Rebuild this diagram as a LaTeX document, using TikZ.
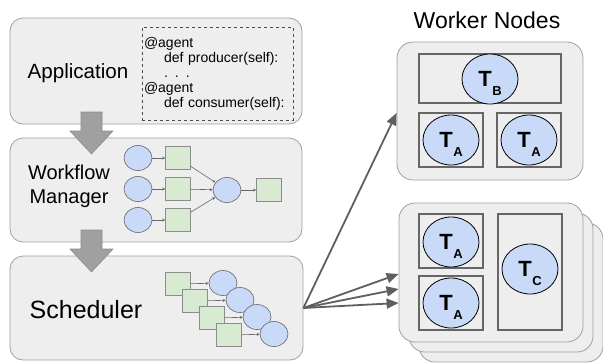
\documentclass[tikz,border=0pt]{standalone}
\usepackage{fontspec}
\setmainfont{Liberation Sans}
\usepackage{xcolor}
\usepackage{tikz}
\usetikzlibrary{shapes,arrows.meta,positioning,calc}
\definecolor{panelgray}{HTML}{EEEEEE}
\definecolor{panelline}{HTML}{A0A0A0}
\definecolor{slotline}{HTML}{666666}
\definecolor{taskblue}{HTML}{C9DAF8}
\definecolor{taskgreen}{HTML}{D9EAD3}
\definecolor{wiregray}{HTML}{5F5F5F}
\definecolor{bigarrowgray}{HTML}{A0A0A0}
\newcommand{\tasklabel}[1]{\fontsize{22}{22}\selectfont\bfseries T\kern0.5pt\raisebox{-9pt}[0pt][0pt]{\fontsize{13}{13}\selectfont #1}}
\tikzset{
    panel/.style={rectangle, draw=panelline, fill=panelgray, rounded corners=13pt, line width=0.8pt},
    codebox/.style={rectangle, draw=black!70, dashed, line width=0.5pt, text width=147pt, align=left, inner sep=2pt, minimum width=151pt, minimum height=93pt, font=\fontsize{14}{15}\selectfont},
    bigarrow/.style={draw=black!45, fill=bigarrowgray, line width=0.6pt},
    job/.style={ellipse, draw=black!60, fill=taskblue, line width=0.6pt, minimum width=28pt, minimum height=25pt, inner sep=0pt},
    data/.style={rectangle, draw=black!45, fill=taskgreen, line width=0.6pt, minimum width=25pt, minimum height=23pt, inner sep=0pt},
    small/.style={draw=black!60, line width=0.6pt, -{Stealth[length=3pt,width=3pt]}},
    slot/.style={rectangle, draw=slotline, fill=panelgray, line width=2.5pt, inner sep=0pt},
    task/.style={ellipse, draw=black, fill=taskblue, line width=0.8pt, minimum width=56pt, minimum height=50pt, inner sep=0pt},
    wire/.style={draw=wiregray, line width=1.8pt, -{Triangle[length=12pt,width=10pt]}}
}
\begin{document}
\begin{tikzpicture}[x=1pt, y=-1pt]
    \useasboundingbox (0,0) rectangle (603,362);

    % Software stack on the left
    \node [panel, minimum width=292pt, minimum height=106pt] (app) at (156,71) {};
    \node [panel, minimum width=292pt, minimum height=104pt] (wfm) at (156,190) {};
    \node [panel, minimum width=293pt, minimum height=104pt] (sched) at (156.5,308) {};

    \node [font=\fontsize{20.6}{24}\selectfont] (apptext) at (78,73) {Application};
    \node [font=\fontsize{20}{24}\selectfont, align=center] (wfmtext) at (69,186) {Workflow\\Manager};
    \node [font=\fontsize{25}{30}\selectfont] (schedtext) at (86,310) {Scheduler};

    \node [codebox] (code) at (217.5,73.5) {
        @agent\\
        \hspace*{20pt}def producer(self):\\
        \hspace*{20pt}. . .\\
        @agent\\
        \hspace*{20pt}def consumer(self):
    };

    % Block arrows between the layers
    \foreach \ya in {112,230}
        \draw [bigarrow] (91.5,\ya) ++(-10.5,0) -- ++(21,0) -- ++(0,19) -- ++(11,0)
            -- ++(-21.5,23) -- ++(-21.5,-23) -- ++(11,0) -- cycle;

    % Workflow graph
    \foreach \i/\y in {1/158,2/189,3/220} {
        \node [job] (wc\i) at (138,\y) {};
        \node [data] (ws\i) at (178,\y) {};
        \path [small] (wc\i) -- (ws\i);
    }
    \node [job] (wm) at (227,190) {};
    \node [data] (wf) at (269,190) {};
    \foreach \i in {1,2,3}
        \path [small] (ws\i) -- (wm);
    \path [small] (wm) -- (wf);

    % Scheduled jobs
    \foreach \i in {0,...,3} {
        \node [data] (ss\i) at (178+17*\i,284+17*\i) {};
        \node [job] (sc\i) at (223+17*\i,283+17*\i) {};
        \path [small] (ss\i) -- (sc\i);
    }

    % Worker nodes
    \node [font=\fontsize{23}{26}\selectfont] (title) at (487,20) {Worker Nodes};

    \node [panel, rounded corners=16pt, minimum width=186pt, minimum height=138pt] (wn1) at (490,111) {};
    \node [slot, minimum width=142pt, minimum height=49pt] (slotb) at (490,78.5) {};
    \node [slot, minimum width=64pt, minimum height=54pt] (slota1) at (451,140) {};
    \node [slot, minimum width=64pt, minimum height=54pt] (slota2) at (529,140) {};
    \node [task] (tb) at (490,79) {\tasklabel{B}};
    \node [task] (ta1) at (451,140) {\tasklabel{A}};
    \node [task] (ta2) at (529,140) {\tasklabel{A}};

    \foreach \s in {20,10}
        \node [panel, rounded corners=16pt, minimum width=184pt, minimum height=139pt] (wnback\s) at (491+\s,272.5+\s) {};
    \node [panel, rounded corners=16pt, minimum width=184pt, minimum height=139pt] (wn2) at (491,272.5) {};
    \node [slot, minimum width=64pt, minimum height=54pt] (slota3) at (451,241) {};
    \node [slot, minimum width=64pt, minimum height=54pt] (slota4) at (451,303) {};
    \node [slot, minimum width=64pt, minimum height=116pt] (slotc) at (530,272) {};
    \node [task] (ta3) at (451,242) {\tasklabel{A}};
    \node [task] (ta4) at (451,303) {\tasklabel{A}};
    \node [task] (tc) at (530,269) {\tasklabel{C}};

    % Dispatch
    \path [wire] (sched.east) -- ($(wn1.west)+(0,2)$);
    \foreach \dy in {1.5,16.5,30.5}
        \path [wire] (sched.east) -- ($(wn2.west)+(0,\dy)$);
\end{tikzpicture}
\end{document}
